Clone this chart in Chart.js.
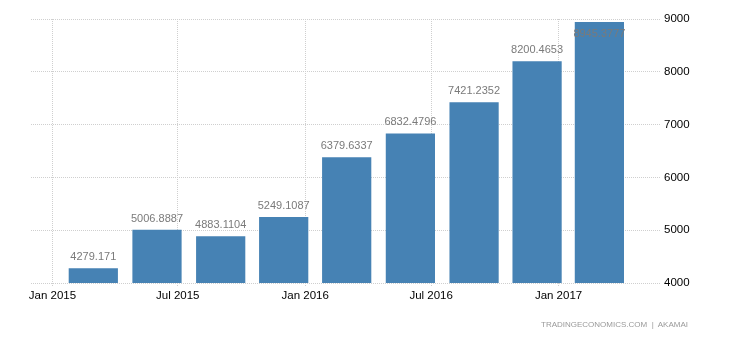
<!DOCTYPE html>
<html lang="en">
<head>
    <meta charset="UTF-8">
    <title>Quarterly values 2015-2017</title>
    <script src="https://cdn.jsdelivr.net/npm/chart.js"></script>
    <style>
        body { margin: 0; background: #fff; }
        .wrap { position: relative; width: 730px; height: 340px; }
        .source {
            position: absolute; left: 541px; top: 320px;
            font: 8px "Liberation Sans", Arial, sans-serif;
            color: #999; white-space: pre;
        }
    </style>
</head>
<body>
    <div class="wrap">
        <canvas id="myChart" width="730" height="340"></canvas>
        <div class="source">TRADINGECONOMICS.COM  |  AKAMAI</div>
    </div>

    <script type="text/javascript">
        // quarterly readings, dated by the last month of each quarter
        const periods = ['2015-03', '2015-06', '2015-09', '2015-12', '2016-03', '2016-06', '2016-09', '2016-12', '2017-03'];
        const values = [4279.171, 5006.8887, 4883.1104, 5249.1087, 6379.6337, 6832.4796, 7421.2352, 8200.4653, 8945.3777];

        const tickDates = ['2015-01', '2015-07', '2016-01', '2016-07', '2017-01'];
        const tickLabels = ['Jan 2015', 'Jul 2015', 'Jan 2016', 'Jul 2016', 'Jan 2017'];
        const yMin = 4000, yMax = 9000, yStep = 1000;

        // days since 1 Jan 2015 for a 'YYYY-MM' string
        function dayOf(s) {
            const [y, m] = s.split('-').map(Number);
            return (Date.UTC(y, m - 1, 1) - Date.UTC(2015, 0, 1)) / 864e5;
        }

        const FONT = '"Liberation Sans", Arial, sans-serif';
        const gridColor = '#cfcfcf';

        // value printed above each bar, pushed inside when there's no room
        const valueLabels = {
            id: 'valueLabels',
            afterDatasetsDraw(chart) {
                const ctx = chart.ctx;
                const area = chart.chartArea;
                const meta = chart.getDatasetMeta(0);
                ctx.save();
                ctx.font = '11px ' + FONT;
                ctx.fillStyle = '#7a7a7a';
                ctx.textAlign = 'center';
                ctx.textBaseline = 'alphabetic';
                meta.data.forEach(function (bar, i) {
                    let y = bar.y - 8;
                    if (y - 9 < area.top) {
                        y = bar.y + 15;
                    }
                    ctx.fillText(String(values[i]), bar.x, y);
                });
                ctx.restore();
            }
        };

        const ctx = document.getElementById('myChart');

        let myChart = new Chart(ctx, {
            type: 'bar',
            data: {
                datasets: [{
                    data: periods.map(function (p, i) { return { x: dayOf(p), y: values[i] }; }),
                    backgroundColor: '#4682b4',
                    borderWidth: 0,
                    categoryPercentage: 1,
                    barPercentage: 0.79
                }]
            },
            options: {
                responsive: false,
                animation: false,
                devicePixelRatio: 1,
                layout: { padding: { left: 31, top: 19, right: 0, bottom: 35 } },
                plugins: {
                    legend: { display: false },
                    tooltip: { enabled: false }
                },
                scales: {
                    x: {
                        type: 'linear',
                        offset: false,
                        min: -31,
                        max: 879,
                        afterBuildTicks: function (scale) {
                            scale.ticks = tickDates.map(function (d) { return { value: dayOf(d) }; });
                        },
                        afterFit: function (scale) { scale.height = 22; },
                        grid: {
                            offset: false,
                            color: gridColor,
                            lineWidth: 1,
                            drawTicks: true,
                            tickLength: 4,
                            tickColor: gridColor,
                            tickBorderDash: [1, 1]
                        },
                        border: { display: false, dash: [1, 1] },
                        ticks: {
                            autoSkip: false,
                            maxRotation: 0,
                            padding: 2,
                            color: '#000',
                            font: { family: FONT, size: 11.5 },
                            callback: function (value, i) { return tickLabels[i]; }
                        }
                    },
                    y: {
                        position: 'right',
                        min: yMin,
                        max: yMax,
                        afterFit: function (scale) { scale.width = 69; },
                        grid: {
                            color: gridColor,
                            lineWidth: 1,
                            drawTicks: false
                        },
                        border: { display: false, dash: [1, 1] },
                        ticks: {
                            stepSize: yStep,
                            padding: 3,
                            color: '#000',
                            font: { family: FONT, size: 11.5 },
                            callback: function (value) { return String(value); }
                        }
                    }
                }
            },
            plugins: [valueLabels]
        });
    </script>
</body>
</html>
